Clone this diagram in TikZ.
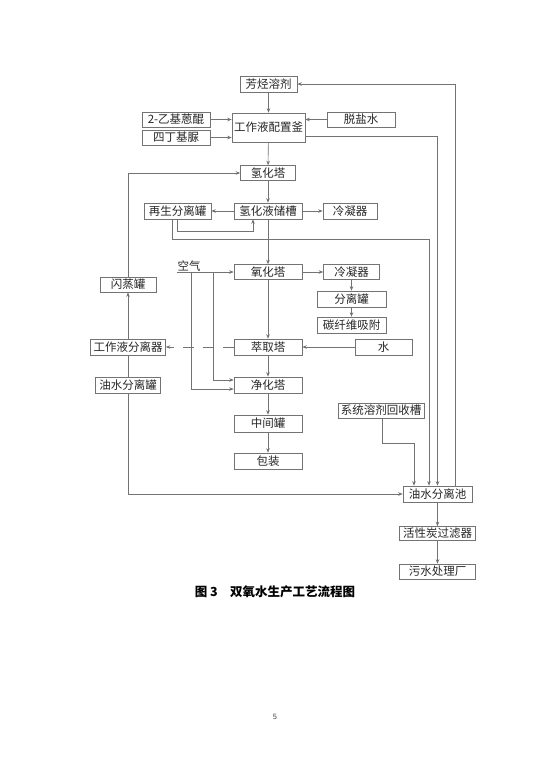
\documentclass[tikz,border=0pt]{standalone}
\usepackage{fontspec}
\newfontfamily\cjk{Noto Sans CJK SC}
\usetikzlibrary{arrows.meta}

\newlength{\du}
\setlength{\du}{1pt}
\definecolor{flowline}{rgb}{0.450000, 0.450000, 0.450000}
\definecolor{flowtext}{rgb}{0.150000, 0.150000, 0.150000}

\tikzset{
  blk/.style={draw=flowline, line width=0.6\du, fill=white, inner sep=0pt,
    minimum height=16\du, text=flowtext, font=\cjk\fontsize{11.5}{11.5}\selectfont},
  lbl/.style={inner sep=0.5\du, text=flowtext, font=\cjk\fontsize{11.5}{11.5}\selectfont},
  flow/.style={draw=flowline, line width=0.6\du,
    -{Stealth[length=4.5pt,width=3.5pt,inset=1.5pt]}},
  link/.style={draw=flowline, line width=0.6\du},
}

\begin{document}
\begin{tikzpicture}
\pgftransformxscale{1.000000}
\pgftransformyscale{-1.000000}
\fill[white] (0\du,0\du) rectangle (550\du,777\du);
% boxes
\node[blk, minimum width=57\du] (fxrj) at (268.5\du,84\du) {芳烃溶剂};
\node[blk, minimum width=68\du, minimum height=15\du] (yjeq) at (176\du,119.5\du) {2-乙基蒽醌};
\node[blk, minimum width=68\du, minimum height=15\du] (sdjn) at (176\du,137.5\du) {四丁基脲};
\node[blk, minimum width=73\du, minimum height=29\du] (pzf) at (268.5\du,127.5\du) {工作液配置釜};
\node[blk, minimum width=68\du, minimum height=15\du] (tys) at (361\du,119.5\du) {脱盐水};
\node[blk, minimum width=55\du, minimum height=15\du] (qht) at (268\du,173\du) {氢化塔};
\node[blk, minimum width=67\du] (zsfl) at (177.5\du,211\du) {再生分离罐};
\node[blk, minimum width=68\du] (qhycc) at (268\du,211\du) {氢化液储槽};
\node[blk, minimum width=54\du] (lnqa) at (350\du,211\du) {冷凝器};
\node[blk, minimum width=68\du, minimum height=15\du] (yht) at (268\du,272\du) {氧化塔};
\node[blk, minimum width=56\du, minimum height=15\du] (lnqb) at (351.5\du,272\du) {冷凝器};
\node[blk, minimum width=69\du] (flg) at (351.5\du,299\du) {分离罐};
\node[blk, minimum width=69\du] (tqw) at (351.5\du,325\du) {碳纤维吸附};
\node[blk, minimum width=56\du, minimum height=15\du] (szg) at (128\du,284.5\du) {闪蒸罐};
\node[blk, minimum width=75\du] (gzfl) at (128\du,347\du) {工作液分离器};
\node[blk, minimum width=68\du] (cqt) at (268\du,347\du) {萃取塔};
\node[blk, minimum width=57\du] (water) at (383.5\du,347\du) {水};
\node[blk, minimum width=65\du] (yssfl) at (128\du,385\du) {油水分离罐};
\node[blk, minimum width=68\du] (jht) at (268\du,385\du) {净化塔};
\node[blk, minimum width=68\du, minimum height=17\du] (zjg) at (268\du,423.5\du) {中间罐};
\node[blk, minimum width=68\du] (bz) at (268\du,461\du) {包装};
\node[blk, minimum width=86\du, minimum height=15\du] (xtrj) at (381\du,410.5\du) {系统溶剂回收槽};
\node[blk, minimum width=69\du] (ysc) at (437.5\du,494\du) {油水分离池};
\node[blk, minimum width=76\du, minimum height=14\du] (hxt) at (437.5\du,533.5\du) {活性炭过滤器};
\node[blk, minimum width=76\du, minimum height=15\du] (wscl) at (437.5\du,571.5\du) {污水处理厂};
\node[lbl, anchor=south west] (air) at (177\du,272\du) {空气};
% bends
\coordinate (c1) at (437.5\du,136\du);
\coordinate (c2) at (177\du,231\du);
\coordinate (c3) at (253\du,231\du);
\coordinate (c4) at (172\du,239\du);
\coordinate (c5) at (429\du,239\du);
\coordinate (c6) at (128\du,173\du);
\coordinate (c7) at (128\du,494\du);
\coordinate (c8) at (382\du,443\du);
\coordinate (c9) at (414\du,443\du);
\coordinate (c10) at (455\du,84\du);
\coordinate (a1) at (191\du,272\du);
\coordinate (a2) at (213\du,272\du);
\coordinate (a3) at (191\du,389\du);
\coordinate (a4) at (213\du,380\du);
% connectors
\draw[flow] (fxrj) -- (pzf);
\draw[flow] (yjeq.east) -- (yjeq.east -| pzf.west);
\draw[flow] (sdjn.east) -- (sdjn.east -| pzf.west);
\draw[flow] (tys.west) -- (tys.west -| pzf.east);
\draw[flow] (pzf) -- (qht);
\draw[flow] (pzf.east |- c1) -- (c1) -- (ysc.north);
\draw[flow] (qht) -- (qhycc);
\draw[flow] (qhycc) -- (zsfl);
\draw[flow] (qhycc) -- (lnqa);
\draw[flow] (qhycc) -- (yht);
\draw[flow] (zsfl.south -| c2) -- (c2) -- (c3) -- (qhycc.south -| c3);
\draw[flow] (zsfl.south -| c4) -- (c4) -- (c5) -- (ysc.north -| c5);
\draw[flow] (air.south west) -- (yht.west);
\draw[flow] (a1) -- (a3) -- (a3 -| jht.west);
\draw[flow] (a2) -- (a4) -- (a4 -| jht.west);
\draw[flow] (yht) -- (lnqb);
\draw[flow] (lnqb) -- (flg);
\draw[flow] (flg) -- (tqw);
\draw[flow] (yht) -- (cqt);
\draw[flow] (water) -- (cqt);
\draw[flow, dash pattern=on 11\du off 9\du] (cqt.west) -- (gzfl.east);
\draw[flow] (cqt) -- (jht);
\draw[flow] (jht) -- (zjg);
\draw[flow] (zjg) -- (bz);
\draw[link] (yssfl) -- (gzfl);
\draw[flow] (gzfl) -- (szg);
\draw[flow] (szg.north) -- (c6) -- (qht.west);
\draw[flow] (yssfl.south) -- (c7) -- (ysc.west);
\draw[flow] (xtrj.south -| c8) -- (c8) -- (c9) -- (ysc.north -| c9);
\draw[flow] (ysc.north -| c10) -- (c10) -- (fxrj.east);
\draw[flow] (ysc) -- (hxt);
\draw[flow] (hxt) -- (wscl);
% caption and page number
\node[text=black, font=\cjk\bfseries\fontsize{12.5}{12.5}\selectfont] (cap) at (275\du,592\du) {图 3\quad 双氧水生产工艺流程图};
\node[text=black!75, font=\sffamily\fontsize{8}{8}\selectfont] (pg) at (275\du,717\du) {5};
\end{tikzpicture}
\end{document}
